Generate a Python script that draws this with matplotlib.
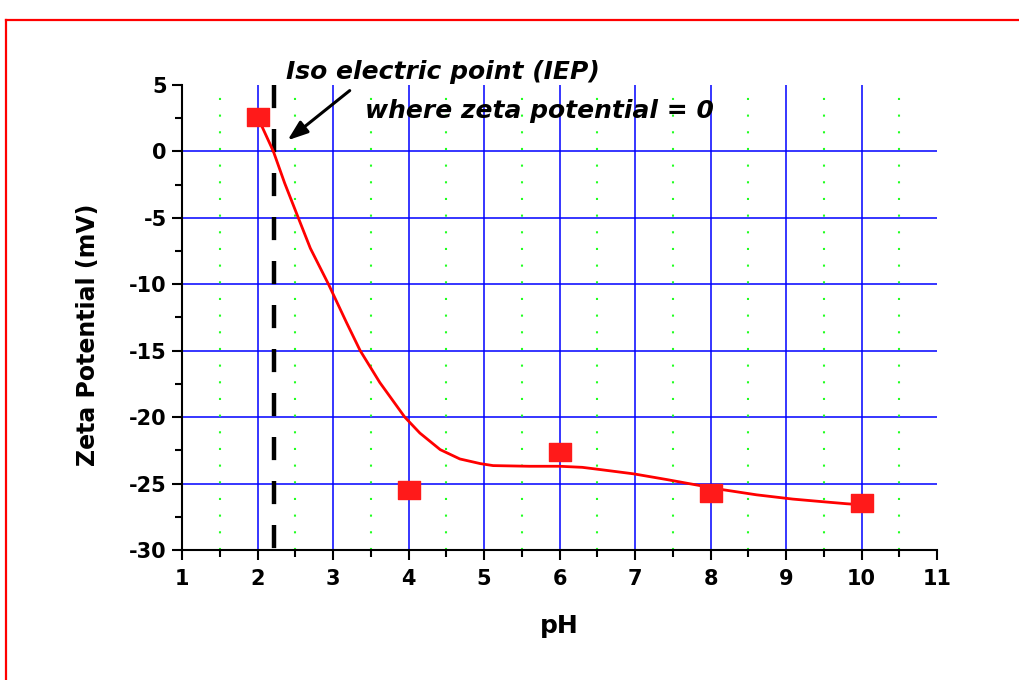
import matplotlib
matplotlib.use("Agg")
import matplotlib.pyplot as plt
from matplotlib.lines import Line2D
from matplotlib.path import Path
import numpy as np

# Measured data points
ph_points = [2, 4, 6, 8, 10]
zeta_points = [2.6, -25.5, -22.6, -25.7, -26.5]

# Smooth fit curve
curve_ph = [2.0, 2.21, 2.36, 2.54, 2.70, 2.94, 3.18, 3.36, 3.62, 3.95, 4.15, 4.42, 4.68,
            4.95, 5.12, 5.6, 6.0, 6.3, 6.54, 6.98, 7.42, 7.68, 8.17, 8.61, 9.09, 9.45, 9.80, 10.0]
curve_zeta = [2.6, 0.0, -2.4, -5.0, -7.3, -10.0, -12.9, -15.0, -17.4, -20.0, -21.2, -22.45, -23.15,
              -23.5, -23.65, -23.7, -23.7, -23.78, -23.95, -24.27, -24.7, -24.97, -25.47, -25.85, -26.17, -26.35, -26.52, -26.6]

iep_ph = 2.22

x_ticks = [1, 2, 3, 4, 5, 6, 7, 8, 9, 10, 11]
y_ticks = [5, 0, -5, -10, -15, -20, -25, -30]

plt.rcParams['font.family'] = ['DejaVu Sans']
plt.rcParams['axes.unicode_minus'] = False

fig = plt.figure(figsize=(10.19, 6.8), dpi=100)
ax = fig.add_axes([0.1786, 0.1912, 0.741, 0.684])

ax.set_xlim(x_ticks[0], x_ticks[-1])
ax.set_ylim(y_ticks[-1], y_ticks[0])

# grid: blue major, green dotted half-step verticals
for x in x_ticks[1:-1]:
    ax.axvline(x, color='#0000ff', lw=1.1, zorder=1)
for y in y_ticks[1:-1]:
    ax.axhline(y, color='#0000ff', lw=1.1, zorder=1)
for x in np.arange(1.5, 11, 1.0):
    ax.axvline(x, color='#22ff22', lw=1.5, ls=(0, (1, 7)), zorder=1)

# IEP dashed line (drawn from top to bottom so dash pattern starts at the top)
ax.plot([iep_ph, iep_ph], [y_ticks[0], y_ticks[-1]], color='black', lw=3.2,
        ls=(0, (5.2, 4.7)), zorder=3)

# curve and points
ax.plot(curve_ph, curve_zeta, color='#ff0000', lw=2.0, zorder=4, solid_joinstyle='round')
rect = Path([(-1.28, -1), (1.28, -1), (1.28, 1), (-1.28, 1), (-1.28, -1)],
            [Path.MOVETO, Path.LINETO, Path.LINETO, Path.LINETO, Path.CLOSEPOLY])
ax.plot(ph_points, zeta_points, linestyle='none', marker=rect, color='#ff1a1a',
        ms=16.5, zorder=5, clip_on=False)

# spines
for s in ['top', 'right']:
    ax.spines[s].set_visible(False)
for s in ['left', 'bottom']:
    ax.spines[s].set_linewidth(1.5)

ax.set_xticks(x_ticks)
ax.set_yticks(y_ticks)
ax.set_xticks(np.arange(1.5, 11, 1.0), minor=True)
ax.set_yticks(np.arange(-27.5, 5, 5.0), minor=True)
ax.tick_params(which='major', direction='out', length=7, width=1.5, labelsize=15)
ax.tick_params(axis='x', which='major', pad=7)
ax.tick_params(axis='y', which='major', pad=4)
ax.tick_params(which='minor', direction='out', length=5, width=1.5)
for lab in ax.get_xticklabels() + ax.get_yticklabels():
    lab.set_fontweight('bold')

ax.set_xlabel('pH', fontsize=18, fontweight='bold', labelpad=18)
ax.set_ylabel('Zeta Potential (mV)', fontsize=17, fontweight='bold')
ax.yaxis.set_label_coords(-0.108, 0.462)

# annotation
ax.annotate('', xy=(2.37, 0.7), xytext=(3.25, 4.7),
            arrowprops=dict(arrowstyle='-|>,head_length=0.55,head_width=0.2', color='black',
                            lw=2.2, mutation_scale=22),
            annotation_clip=False, zorder=6)
ax.text(2.38, 5.95, 'Iso electric point (IEP)', fontsize=18, fontweight='bold',
        style='italic', ha='left', va='center', clip_on=False)
ax.text(3.43, 3.0, 'where zeta potential = 0', fontsize=18, fontweight='bold',
        style='italic', ha='left', va='center', clip_on=False)

# red border (top and left)
fig.add_artist(Line2D([6/1019, 1.0], [1 - 20/680, 1 - 20/680], color='red', lw=1.6, transform=fig.transFigure))
fig.add_artist(Line2D([6/1019, 6/1019], [0.0, 1 - 20/680], color='red', lw=1.6, transform=fig.transFigure))

fig.savefig('out.png', dpi=100)
